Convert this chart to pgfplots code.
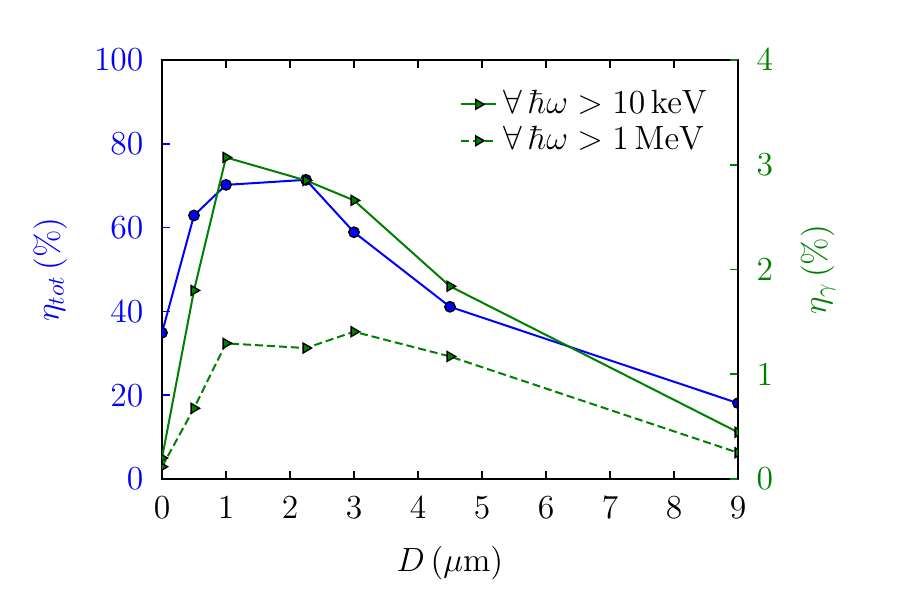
\RequirePackage{fix-cm}
\documentclass[border=0pt]{standalone}
\usepackage{pgfplots}
\pgfplotsset{compat=1.18}
\definecolor{mgreen}{rgb}{0,0.5,0}
\begin{document}
\fontsize{16.8}{20}\selectfont
\begin{tikzpicture}
\useasboundingbox (-81pt,-60.5pt) rectangle (369pt,239.5pt);
\begin{axis}[
  at={(0,0)}, anchor=south west, scale only axis,
  width=288pt, height=209.5pt,
  xmin=0, xmax=9, ymin=0, ymax=100,
  xtick={0,1,2,3,4,5,6,7,8,9}, ytick={0,20,40,60,80,100},
  xtick pos=both, ytick pos=left, tick align=inside,
  axis line style={line width=1.3pt, black},
  x tick style={black, line width=0.8pt},
  y tick style={blue, line width=0.8pt},
  major tick length=4pt,
  yticklabel style={blue, xshift=-3.5pt},
  xticklabel style={yshift=-3pt},
  xlabel={$D\,(\mu\mathrm{m})$},
  xlabel style={at={(axis description cs:0.5,-0.2)}, anchor=center},
  ylabel={$\eta_{tot}\,(\%)$},
  every axis y label/.style={at={(axis description cs:-0.194,0.5)}, anchor=center, rotate=90, blue},
  clip marker paths=true,
]
\addplot[blue, line width=1pt, mark=*, mark size=2.6pt,
  mark options={fill=blue, draw=black, line width=0.7pt, solid}]
  coordinates {(0,34.9) (0.5,62.9) (1,70.2) (2.25,71.4) (3,58.9) (4.5,41.1) (9,18.1)};
\end{axis}
\begin{axis}[
  at={(0,0)}, anchor=south west, scale only axis,
  width=288pt, height=209.5pt,
  xmin=0, xmax=9, ymin=0, ymax=4,
  axis x line=none, axis y line*=right,
  ytick={0,1,2,3,4}, ytick pos=right, tick align=inside,
  axis line style={line width=1.3pt, black, -},
  y tick style={mgreen, line width=0.8pt},
  major tick length=4pt,
  yticklabel style={mgreen, xshift=3.5pt},
  ylabel={$\eta_{\gamma}\,(\%)$},
  every axis y label/.style={at={(axis description cs:1.139,0.5)}, anchor=center, rotate=90, mgreen},
  clip marker paths=true,
  legend style={draw=none, fill=none, at={(rel axis cs:0.507,0.948)}, anchor=north west,
    font=\fontsize{16.8}{20}\selectfont,
    /tikz/every odd column/.append style={column sep=1.5pt}},
  legend cell align=left,
]
\addplot[mgreen, line width=1pt, mark=triangle*, mark size=2.8pt,
  mark options={rotate=-90, fill=mgreen, draw=black, line width=0.7pt, solid}]
  coordinates {(0,0.20) (0.5,1.80) (1,3.07) (2.25,2.85) (3,2.66) (4.5,1.84) (9,0.446)};
\addlegendentry{$\forall\,\hbar\omega > 10\,\mathrm{keV}$}
\addplot[mgreen, line width=1pt, dash pattern=on 4pt off 2pt, mark=triangle*, mark size=2.8pt,
  mark options={rotate=-90, fill=mgreen, draw=black, line width=0.7pt, solid}]
  coordinates {(0,0.117) (0.5,0.675) (1,1.295) (2.25,1.25) (3,1.406) (4.5,1.17) (9,0.251)};
\addlegendentry{$\forall\,\hbar\omega > 1\,\mathrm{MeV}$}
\end{axis}
\end{tikzpicture}
\end{document}
